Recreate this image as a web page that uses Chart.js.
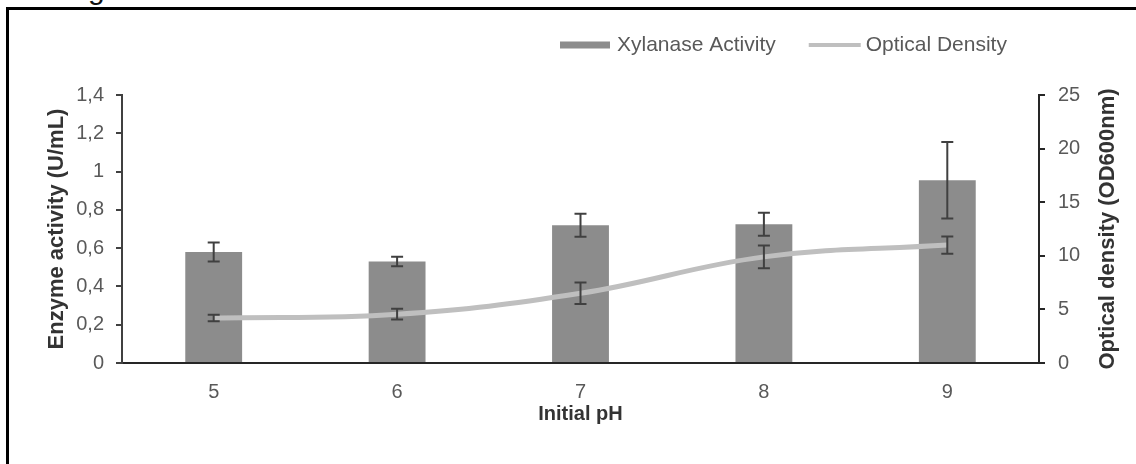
<!DOCTYPE html>
<html>
<head>
<meta charset="utf-8">
<title>Initial pH</title>
<script src="https://cdn.jsdelivr.net/npm/chart.js@4/dist/chart.umd.min.js"></script>
<style>
    html, body { margin: 0; padding: 0; background: #fff; overflow: hidden; }
    #wrap { position: relative; width: 1136px; height: 464px; overflow: hidden; }
    #frame { position: absolute; left: 6px; top: 7px; right: -10px; bottom: -10px;
             border-top: 3px solid #000; border-left: 3px solid #000; }
    #caption { position: absolute; left: 88px; top: -26px; font: 30px/30px 'Liberation Sans', Arial, sans-serif; color: #111; }
    canvas { position: absolute; left: 0; top: 0; }
</style>
</head>
<body>
<div id="wrap">
    <div id="caption">g</div>
    <div id="frame"></div>
    <canvas id="ph-chart" width="1136" height="464"></canvas>
</div>
<script>
const phLabels = ['5', '6', '7', '8', '9'];
const xylanase = [0.58, 0.53, 0.72, 0.725, 0.955];
const xylanaseErr = [0.05, 0.025, 0.06, 0.06, 0.20];
const opticalDensity = [4.2, 4.55, 6.5, 9.9, 11.0];
const opticalDensityErr = [0.3, 0.5, 1.0, 1.05, 0.8];
const enzymeTicks = ['0', '0,2', '0,4', '0,6', '0,8', '1', '1,2', '1,4'];
const odTicks = ['0', '5', '10', '15', '20', '25'];

const FONT = "'Liberation Sans', Arial, sans-serif";
const BAR_COLOR = '#8c8c8c';
const LINE_COLOR = '#bfbfbf';
const TEXT_COLOR = '#595959';
const TITLE_COLOR = '#333333';

// whiskers for every dataset that carries an errors array
const errorBars = {
    id: 'errorBars',
    afterDatasetsDraw(chart) {
        const ctx = chart.ctx;
        chart.data.datasets.forEach(function (ds, i) {
            if (!ds.errors) return;
            const meta = chart.getDatasetMeta(i);
            const scale = chart.scales[meta.yAxisID];
            ctx.save();
            ctx.strokeStyle = '#404040';
            ctx.lineWidth = 2;
            meta.data.forEach(function (el, j) {
                const x = el.x;
                const top = scale.getPixelForValue(ds.data[j] + ds.errors[j]);
                const bot = scale.getPixelForValue(ds.data[j] - ds.errors[j]);
                ctx.beginPath();
                ctx.moveTo(x, top); ctx.lineTo(x, bot);
                ctx.moveTo(x - 6, top); ctx.lineTo(x + 6, top);
                ctx.moveTo(x - 6, bot); ctx.lineTo(x + 6, bot);
                ctx.stroke();
            });
            ctx.restore();
        });
    }
};

// legend row on top plus the right axis title reading bottom-up
const extras = {
    id: 'extras',
    afterDraw(chart) {
        const ctx = chart.ctx;
        const items = chart.data.datasets;
        ctx.save();
        ctx.font = '21px ' + FONT;
        ctx.textBaseline = 'middle';
        ctx.fillStyle = TEXT_COLOR;

        let x = 560;
        const y = 45;
        items.forEach(function (ds) {
            if (ds.type === 'line') {
                ctx.fillStyle = ds.borderColor;
                ctx.fillRect(x, y - 2, 52, 4);
                x += 57;
            } else {
                ctx.fillStyle = ds.backgroundColor;
                ctx.fillRect(x, y - 3.5, 50, 7);
                x += 57;
            }
            ctx.fillStyle = TEXT_COLOR;
            ctx.fillText(ds.label, x, y);
            x += ctx.measureText(ds.label).width + 33;
        });

        const right = chart.scales.y1;
        ctx.translate(1108, (right.top + right.bottom) / 2);
        ctx.rotate(-Math.PI / 2);
        ctx.textAlign = 'center';
        ctx.font = 'bold 22px ' + FONT;
        ctx.fillStyle = TITLE_COLOR;
        ctx.fillText('Optical density (OD600nm)', 0, 0);
        ctx.restore();
    }
};

function fillChart() {
    const ctx = document.getElementById('ph-chart').getContext('2d');
    Chart.defaults.font.family = FONT;
    new Chart(ctx, {
        data: {
            labels: phLabels,
            datasets: [{
                type: 'bar',
                label: 'Xylanase Activity',
                data: xylanase,
                errors: xylanaseErr,
                backgroundColor: BAR_COLOR,
                yAxisID: 'y',
                barPercentage: 0.31,
                categoryPercentage: 1,
                order: 2
            }, {
                type: 'line',
                label: 'Optical Density',
                data: opticalDensity,
                errors: opticalDensityErr,
                borderColor: LINE_COLOR,
                borderWidth: 5,
                pointRadius: 0,
                tension: 0.4,
                yAxisID: 'y1',
                order: 1
            }]
        },
        options: {
            responsive: false,
            animation: false,
            devicePixelRatio: 1,
            layout: { padding: { top: 95, left: 0, right: 0, bottom: 0 } },
            plugins: { legend: { display: false }, tooltip: { enabled: false } },
            scales: {
                x: {
                    grid: { display: false, drawTicks: false },
                    border: { display: true, color: '#262626', width: 2 },
                    ticks: { color: TEXT_COLOR, font: { size: 20 }, padding: 17 },
                    title: { display: true, text: 'Initial pH', color: TITLE_COLOR,
                             font: { size: 20, weight: 'bold' }, padding: { top: 0, bottom: 38 } },
                    afterFit: function (s) { s.height = 101; }
                },
                y: {
                    position: 'left',
                    min: 0, max: 1.4,
                    ticks: { stepSize: 0.2, color: TEXT_COLOR, font: { size: 20 }, padding: 12,
                             callback: function (v) { return enzymeTicks[Math.round(v / 0.2)]; } },
                    grid: { drawOnChartArea: false, drawTicks: true, tickLength: 6, color: '#404040', lineWidth: 2 },
                    border: { display: true, color: '#404040', width: 2 },
                    title: { display: true, text: 'Enzyme activity (U/mL)', color: TITLE_COLOR,
                             font: { size: 22, weight: 'bold' }, padding: { top: 44, bottom: 0 } },
                    afterFit: function (s) { s.width = 122; }
                },
                y1: {
                    position: 'right',
                    min: 0, max: 25,
                    ticks: { stepSize: 5, color: TEXT_COLOR, font: { size: 20 }, padding: 13,
                             callback: function (v) { return odTicks[Math.round(v / 5)]; } },
                    grid: { drawOnChartArea: false, drawTicks: true, tickLength: 6, color: '#262626', lineWidth: 2 },
                    border: { display: true, color: '#262626', width: 2 },
                    afterFit: function (s) { s.width = 97; }
                }
            }
        },
        plugins: [errorBars, extras]
    });
}

fillChart();
</script>
</body>
</html>
